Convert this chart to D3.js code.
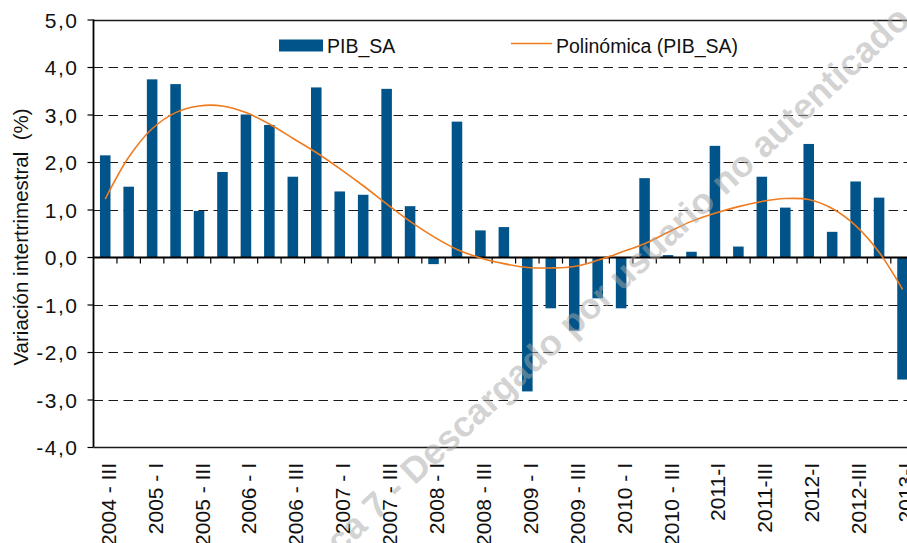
<!DOCTYPE html>
<html lang="es">
<head>
    <meta charset="UTF-8">
    <title>PIB_SA - Variación intertrimestral</title>
    <style>
        body {
            margin: 0;
            padding: 0;
            background-color: #ffffff;
            overflow: hidden;
        }
        svg {
            display: block;
            font-family: "Liberation Sans", Arial, sans-serif;
        }
        .tick-label {
            font-size: 21px;
            fill: #111;
        }
        .legend-text {
            font-size: 19.5px;
            fill: #111;
        }
    </style>
</head>
<body>
    <svg width="907" height="543"></svg>

    <script src="https://cdnjs.cloudflare.com/ajax/libs/d3/7.8.5/d3.min.js"></script>
    <script>
        // quarters shown, one bar each
        const quarters = [
            "2004-III", "2004-IV",
            "2005-I", "2005-II", "2005-III", "2005-IV",
            "2006-I", "2006-II", "2006-III", "2006-IV",
            "2007-I", "2007-II", "2007-III", "2007-IV",
            "2008-I", "2008-II", "2008-III", "2008-IV",
            "2009-I", "2009-II", "2009-III", "2009-IV",
            "2010-I", "2010-II", "2010-III", "2010-IV",
            "2011-I", "2011-II", "2011-III", "2011-IV",
            "2012-I", "2012-II", "2012-III", "2012-IV",
            "2013-I"
        ];

        // quarterly GDP change (%)
        const pibSA = [
            2.14, 1.48, 3.74, 3.64, 0.97, 1.79, 3.00, 2.78, 1.69, 3.57,
            1.38, 1.31, 3.54, 1.07, -0.15, 2.85, 0.56, 0.63, -2.83, -1.08,
            -1.55, -0.87, -1.08, 1.66, 0.04, 0.11, 2.34, 0.22, 1.69, 1.04,
            2.38, 0.53, 1.59, 1.25, -2.58
        ];

        // polynomial trend line, read at each quarter
        const trendSA = [
            1.22, 2.10, 2.70, 3.04, 3.18, 3.18, 3.04, 2.80, 2.50, 2.20,
            1.86, 1.50, 1.12, 0.75, 0.43, 0.16, -0.02, -0.14, -0.22, -0.23,
            -0.20, -0.07, 0.10, 0.28, 0.52, 0.75, 0.92, 1.06, 1.17, 1.23,
            1.21, 1.02, 0.66, 0.10, -0.68
        ];

        // axis labels written under every other quarter
        const xTickLabels = [
            "2004 - III", "2005 - I", "2005 - III", "2006 - I", "2006 - III",
            "2007 - I", "2007 - III", "2008 - I", "2008 - III", "2009 - I",
            "2009 - III", "2010 - I", "2010 - III", "2011-I", "2011-III",
            "2012-I", "2012-III", "2013-I"
        ];

        const yTicks = [-4, -3, -2, -1, 0, 1, 2, 3, 4, 5];

        const svg = d3.select("svg");
        const plot = {left: 93.5, top: 19.5, bottom: 447, band: 23.45};

        const x = d3.scaleBand()
            .domain(quarters)
            .range([plot.left, plot.left + quarters.length * plot.band])
            .paddingInner(0.55)
            .paddingOuter(0.275);

        const xStep = d3.scaleBand()
            .domain(quarters)
            .range(x.range());

        const y = d3.scaleLinear()
            .domain([-4, 5])
            .range([plot.bottom, plot.top]);

        const fmt = v => d3.format(".1f")(v).replace(".", ",").replace("−", "-");

        svg.append("rect")
            .attr("width", 907)
            .attr("height", 543)
            .attr("fill", "#fff");

        // horizontal grid
        svg.append("g")
            .selectAll("line")
            .data(yTicks)
            .join("line")
            .attr("x1", plot.left)
            .attr("x2", 907)
            .attr("y1", d => Math.round(y(d)) + 0.5)
            .attr("y2", d => Math.round(y(d)) + 0.5)
            .attr("stroke", "#1a1a1a")
            .attr("stroke-width", d => (d === -4 || d === 5) ? 1.6 : 1.1)
            .attr("stroke-dasharray", d => (d === -4 || d === 5 || d === 0) ? null : "9.5,5.5");

        // bars
        svg.append("g")
            .selectAll("rect")
            .data(pibSA)
            .join("rect")
            .attr("x", (d, i) => x(quarters[i]))
            .attr("y", d => y(Math.max(0, d)))
            .attr("width", x.bandwidth())
            .attr("height", d => Math.abs(y(d) - y(0)))
            .attr("fill", "#005489");

        // zero line with category ticks
        const y0 = Math.round(y(0)) + 0.5;
        svg.append("line")
            .attr("x1", plot.left)
            .attr("x2", 907)
            .attr("y1", y0)
            .attr("y2", y0)
            .attr("stroke", "#000")
            .attr("stroke-width", 1.8);

        svg.append("g")
            .selectAll("line")
            .data(quarters)
            .join("line")
            .attr("x1", d => xStep(d) + xStep.bandwidth())
            .attr("x2", d => xStep(d) + xStep.bandwidth())
            .attr("y1", y0)
            .attr("y2", y0 + 6)
            .attr("stroke", "#000")
            .attr("stroke-width", 1.2);

        // trend line
        const line = d3.line()
            .x((d, i) => xStep(quarters[i]) + xStep.bandwidth() / 2)
            .y(d => y(d))
            .curve(d3.curveCatmullRom.alpha(0.5));

        svg.append("path")
            .datum(trendSA)
            .attr("d", line)
            .attr("fill", "none")
            .attr("stroke", "#EF7B1E")
            .attr("stroke-width", 1.6);

        // y axis
        svg.append("g")
            .attr("transform", `translate(${plot.left},0)`)
            .call(d3.axisLeft(y).tickValues(yTicks).tickSize(6).tickFormat(fmt))
            .call(g => g.select(".domain")
                .attr("stroke", "#000")
                .attr("stroke-width", 1.8)
                .attr("d", `M0,${plot.top}V${plot.bottom}`))
            .call(g => g.selectAll(".tick line").attr("stroke", "#000").attr("stroke-width", 1.2))
            .call(g => g.selectAll(".tick text")
                .attr("class", "tick-label")
                .attr("x", -15)
                .attr("dy", "0.36em")
                .style("letter-spacing", "1.5px")
                .attr("font-family", null)
                .attr("font-size", null));

        // x labels, rotated
        svg.append("g")
            .selectAll("text")
            .data(xTickLabels)
            .join("text")
            .attr("class", "tick-label")
            .attr("text-anchor", "end")
            .attr("dy", "0.36em")
            .attr("transform", (d, i) => {
                const q = quarters[i * 2];
                const cx = xStep(q) + xStep.bandwidth() / 2 + 3;
                return `translate(${cx},463) rotate(-90)`;
            })
            .text(d => d);

        // y title
        svg.append("text")
            .attr("class", "tick-label")
            .attr("text-anchor", "middle")
            .attr("transform", "translate(28,237) rotate(-90)")
            .style("font-size", "20.5px")
            .style("white-space", "pre")
            .text("Variación intertrimestral  (%)");

        // legend
        const legend = svg.append("g");
        legend.append("rect")
            .attr("x", 279)
            .attr("y", 39.5)
            .attr("width", 44)
            .attr("height", 12)
            .attr("fill", "#005489");
        legend.append("text")
            .attr("class", "legend-text")
            .attr("x", 327)
            .attr("y", 53)
            .text("PIB_SA");
        legend.append("line")
            .attr("x1", 511)
            .attr("x2", 552)
            .attr("y1", 43.5)
            .attr("y2", 43.5)
            .attr("stroke", "#EF7B1E")
            .attr("stroke-width", 1.6);
        legend.append("text")
            .attr("class", "legend-text")
            .attr("x", 556)
            .attr("y", 53)
            .text("Polinómica (PIB_SA)");

        // watermark
        svg.append("text")
            .attr("text-anchor", "end")
            .attr("transform", "translate(912,22) rotate(-43)")
            .attr("font-size", 36)
            .attr("font-weight", "bold")
            .attr("fill", "#a8a8a8")
            .attr("fill-opacity", 0.5)
            .text("ca 7 - Descargado por usuario no autenticado");
    </script>
</body>
</html>
